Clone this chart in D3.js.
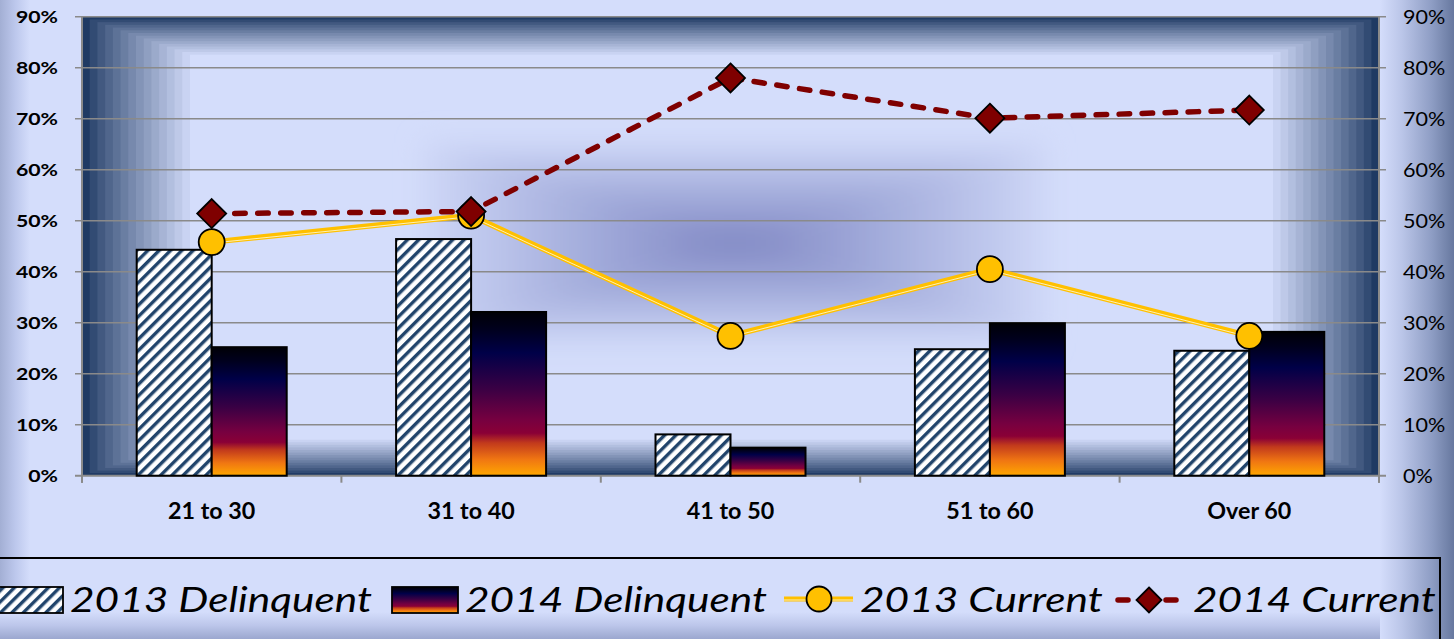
<!DOCTYPE html>
<html>
<head>
<meta charset="utf-8">
<script src="https://cdn.jsdelivr.net/npm/d3@7"></script>
<style>
  html, body { margin: 0; padding: 0; background: #d4ddfb; overflow: hidden; }
  svg { display: block; }
</style>
</head>
<body>
<svg id="chart" width="1454" height="639"></svg>
<script>
// Age groups along the x axis
const categories = ["21 to 30", "31 to 40", "41 to 50", "51 to 60", "Over 60"];
// Share of accounts (%) per age group
const delinquent2013 = [44.3, 46.4, 8.1, 24.8, 24.5];
const delinquent2014 = [25.2, 32.1, 5.5, 29.9, 28.2];
const current2013 = [45.8, 51.0, 27.4, 40.5, 27.4];
const current2014 = [51.4, 51.8, 78.0, 70.1, 71.7];
// Axis ticks (%)
const yTicks = [0, 10, 20, 30, 40, 50, 60, 70, 80, 90];
const seriesNames = ["2013 Delinquent", "2014 Delinquent", "2013 Current", "2014 Current"];

const W = 1454, H = 639;
const plot = { left: 82, right: 1379, top: 16.7, bottom: 475.7 };
const BG = "#d4ddfb";
const NAVY = "#1f3a63";

const svg = d3.select("#chart");
const defs = svg.append("defs");

const x = d3.scaleBand().domain(categories).range([plot.left, plot.right]);
const y = d3.scaleLinear().domain([0, 90]).range([plot.bottom, plot.top]);
const barW = 75;

// ---------- gradients & patterns ----------
function linGrad(id, x1, y1, x2, y2, stops) {
  const g = defs.append("linearGradient").attr("id", id)
    .attr("x1", x1).attr("y1", y1).attr("x2", x2).attr("y2", y2);
  stops.forEach(([o, c]) => g.append("stop").attr("offset", o).attr("stop-color", c));
  return g;
}
// sunset fill for 2014 bars (top to bottom)
linGrad("sunset", 0, 0, 0, 1, [
  [0, "#000006"], [0.1, "#00001c"], [0.25, "#000048"], [0.47, "#3a0044"],
  [0.66, "#770040"], [0.74, "#8a0036"], [0.8, "#c23a1c"], [0.9, "#f07612"], [1, "#ffa800"]
]);
linGrad("edgeLeft", 0, 0, 1, 0, [[0, "#a3afd4"], [0.5, "#bcc7ec"], [1, BG]]);
linGrad("edgeRight", 0, 0, 1, 0, [[0, BG], [0.3, "#bac5e8"], [0.7, "#8e9dc4"], [1, "#67789f"]]);
linGrad("edgeBottom", 0, 0, 0, 1, [[0, BG], [0.5, "#bcc6ea"], [1, "#9ba7cf"]]);

const hatch = defs.append("pattern").attr("id", "hatch")
  .attr("patternUnits", "userSpaceOnUse").attr("width", 8).attr("height", 8)
  .attr("patternTransform", "rotate(45)");
hatch.append("rect").attr("width", 8).attr("height", 8).attr("fill", "#ffffff");
hatch.append("rect").attr("width", 3.4).attr("height", 8).attr("fill", "#21446b");

const blur = defs.append("filter").attr("id", "soft")
  .attr("x", "-30%").attr("y", "-30%").attr("width", "160%").attr("height", "160%");
blur.append("feGaussianBlur").attr("stdDeviation", 14);

// ---------- chart area background ----------
svg.append("rect").attr("width", W).attr("height", H).attr("fill", BG);
svg.append("rect").attr("x", 0).attr("y", 0).attr("width", 30).attr("height", H).attr("fill", "url(#edgeLeft)");
svg.append("rect").attr("x", 0).attr("y", 612).attr("width", W).attr("height", 27).attr("fill", "url(#edgeBottom)");
svg.append("rect").attr("x", 1380).attr("y", 0).attr("width", 74).attr("height", H).attr("fill", "url(#edgeRight)");

// ---------- plot area: stepped frame shading ----------
const frameG = svg.append("g");
const inset = { l: 108, r: 106, t: 38, b: 36 };
const steps = 14;
const frameColor = d3.interpolateRgb(NAVY, BG);
for (let i = 0; i <= steps; i++) {
  const t = i / steps;
  frameG.append("rect")
    .attr("x", plot.left + t * inset.l)
    .attr("y", plot.top + t * inset.t)
    .attr("width", (plot.right - plot.left) - t * (inset.l + inset.r))
    .attr("height", (plot.bottom - plot.top) - t * (inset.t + inset.b))
    .attr("fill", frameColor(Math.pow(t, 0.85)));
}
// soft glow in the middle of the plot
const glowG = svg.append("g").attr("filter", "url(#soft)");
const glowColor = d3.interpolateRgb(BG, "#848cc6");
const gcx = 735, gcy = 243, ghw = 310, ghh = 100;
for (let i = 0; i < 10; i++) {
  const t = i / 10;
  glowG.append("rect")
    .attr("x", gcx - ghw * (1 - t)).attr("y", gcy - ghh * (1 - t))
    .attr("width", 2 * ghw * (1 - t)).attr("height", 2 * ghh * (1 - t))
    .attr("fill", glowColor(Math.pow((i + 1) / 10, 0.9)));
}

// ---------- gridlines & axes ----------
const GRID = "#8a8a8a";
svg.append("g").selectAll("line").data(yTicks.slice(1)).join("line")
  .attr("x1", plot.left - 7).attr("x2", plot.right + 7)
  .attr("y1", d => y(d)).attr("y2", d => y(d))
  .attr("stroke", GRID).attr("stroke-width", 1.6);

const axisG = svg.append("g").attr("stroke", GRID).attr("stroke-width", 2);
axisG.append("line").attr("x1", plot.left).attr("x2", plot.left).attr("y1", plot.top).attr("y2", plot.bottom + 7);
axisG.append("line").attr("x1", plot.right).attr("x2", plot.right).attr("y1", plot.top).attr("y2", plot.bottom + 7);
axisG.append("line").attr("x1", plot.left - 7).attr("x2", plot.right + 7).attr("y1", plot.bottom).attr("y2", plot.bottom);
// category boundary ticks
const bounds = categories.map(c => x(c)).concat([plot.right]);
axisG.selectAll(".ct").data(bounds).join("line")
  .attr("x1", d => d).attr("x2", d => d).attr("y1", plot.bottom).attr("y2", plot.bottom + 7);

// ---------- text helper (fonts are drawn slightly wide) ----------
function label(g, txt, px, py, opts) {
  const t = g.append("text")
    .attr("transform", `translate(${px},${py}) scale(${opts.sx},1)`)
    .attr("font-family", "Lato, 'Open Sans', sans-serif")
    .attr("font-size", opts.size)
    .attr("font-weight", opts.weight || "normal")
    .attr("font-style", opts.style || "normal")
    .attr("text-anchor", opts.anchor || "start")
    .attr("fill", "#000")
    .text(txt);
  return t;
}
const textG = svg.append("g");
yTicks.forEach(v => {
  label(textG, v + "%", 58, y(v) + 6.5, { size: 17, weight: "bold", sx: 1.25, anchor: "end" });
  label(textG, v + "%", 1403, y(v) + 7.5, { size: 20, sx: 1.08 });
});
categories.forEach(c => {
  label(textG, c, x(c) + x.bandwidth() / 2, 519, { size: 22, weight: "bold", sx: 1.06, anchor: "middle" });
});

// ---------- bars ----------
const cx = c => x(c) + x.bandwidth() / 2;
svg.append("g").selectAll("rect").data(categories).join("rect")
  .attr("x", c => cx(c) - barW).attr("width", barW)
  .attr("y", (c, i) => y(delinquent2013[i]))
  .attr("height", (c, i) => y(0) - y(delinquent2013[i]))
  .attr("fill", "url(#hatch)").attr("stroke", "#000").attr("stroke-width", 2);
svg.append("g").selectAll("rect").data(categories).join("rect")
  .attr("x", c => cx(c)).attr("width", barW)
  .attr("y", (c, i) => y(delinquent2014[i]))
  .attr("height", (c, i) => y(0) - y(delinquent2014[i]))
  .attr("fill", "url(#sunset)").attr("stroke", "#000").attr("stroke-width", 2);

// ---------- lines ----------
const YELLOW = "#ffc000", MAROON = "#7f0000";
const line13 = d3.line().x((d, i) => cx(categories[i])).y(d => y(d));
const l13 = svg.append("g");
l13.append("path").attr("d", line13(current2013)).attr("fill", "none")
  .attr("stroke", YELLOW).attr("stroke-width", 5.5).attr("stroke-linejoin", "round");
l13.append("path").attr("d", line13(current2013)).attr("fill", "none")
  .attr("transform", "translate(0,1)")
  .attr("stroke", "#fdf0b8").attr("stroke-width", 1);
l13.selectAll("circle").data(current2013).join("circle")
  .attr("cx", (d, i) => cx(categories[i])).attr("cy", d => y(d)).attr("r", 13)
  .attr("fill", YELLOW).attr("stroke", "#000").attr("stroke-width", 1.8);

const l14 = svg.append("g");
l14.append("path").attr("d", line13(current2014)).attr("fill", "none")
  .attr("stroke", MAROON).attr("stroke-width", 5.5).attr("stroke-linecap", "round")
  .attr("stroke-dasharray", "10.5,12.5");
const diamond = s => `M0,${-s}L${s},0L0,${s}L${-s},0Z`;
l14.selectAll("path.mk").data(current2014).join("path").attr("class", "mk")
  .attr("transform", (d, i) => `translate(${cx(categories[i])},${y(d)})`)
  .attr("d", diamond(14.5))
  .attr("fill", MAROON).attr("stroke", "#000").attr("stroke-width", 1.8);

// ---------- legend ----------
const lg = svg.append("g");
lg.append("rect").attr("x", -4).attr("y", 558).attr("width", 1444).attr("height", 120)
  .attr("fill", "none").attr("stroke", "#000").attr("stroke-width", 2);
const legY = 600, legBase = 612;
const legFont = { size: 35.5, style: "italic", sx: 1.195 };
lg.append("rect").attr("x", -4).attr("y", 587).attr("width", 67).attr("height", 26)
  .attr("fill", "url(#hatch)").attr("stroke", "#000").attr("stroke-width", 1.8);
label(lg, seriesNames[0], 70, legBase, legFont);
lg.append("rect").attr("x", 392).attr("y", 587).attr("width", 66).attr("height", 26)
  .attr("fill", "url(#sunset)").attr("stroke", "#000").attr("stroke-width", 1.8);
label(lg, seriesNames[1], 465, legBase, legFont);
lg.append("line").attr("x1", 784).attr("x2", 853).attr("y1", legY - 1).attr("y2", legY - 1)
  .attr("stroke", YELLOW).attr("stroke-width", 5);
lg.append("line").attr("x1", 784).attr("x2", 853).attr("y1", legY).attr("y2", legY)
  .attr("stroke", "#fdf0b8").attr("stroke-width", 1);
lg.append("circle").attr("cx", 819).attr("cy", legY - 1).attr("r", 12.5)
  .attr("fill", YELLOW).attr("stroke", "#000").attr("stroke-width", 1.8);
label(lg, seriesNames[2], 860, legBase, legFont);
lg.append("line").attr("x1", 1118).attr("x2", 1178).attr("y1", legY).attr("y2", legY)
  .attr("stroke", MAROON).attr("stroke-width", 5.5).attr("stroke-linecap", "round")
  .attr("stroke-dasharray", "10,38");
lg.append("path").attr("transform", `translate(1149,${legY})`).attr("d", diamond(12.5))
  .attr("fill", MAROON).attr("stroke", "#000").attr("stroke-width", 1.8);
label(lg, seriesNames[3], 1193, legBase, legFont);
</script>
</body>
</html>
